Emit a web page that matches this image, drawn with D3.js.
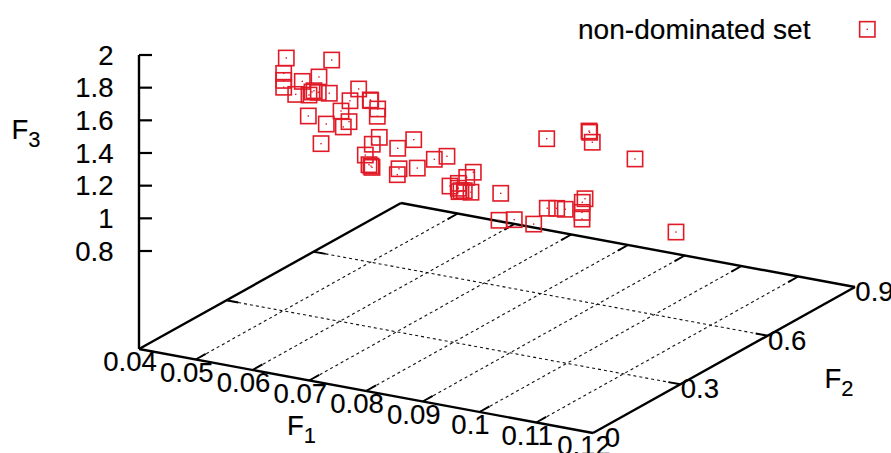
<!DOCTYPE html>
<html><head><meta charset="utf-8">
<script src="https://cdn.jsdelivr.net/npm/d3@7"></script>
<style>html,body{margin:0;padding:0;background:#fff}svg{display:block}text{font-family:"Liberation Sans",Arial,sans-serif;fill:#000;stroke:#000;stroke-width:.15px}</style>
</head><body><div id="c"></div>
<script>
const f1Ticks=[0.04,0.05,0.06,0.07,0.08,0.09,0.1,0.11,0.12];
const f2Ticks=[0,0.3,0.6,0.9];
const f3Ticks=[0.8,1,1.2,1.4,1.6,1.8,2];
const legendLabel="non-dominated set";
const F1=[.05826,.06626,.0578,.0578,.0578,.06108,.06402,.05992,.06226,.06314,.0639,.06584,.06279,.06214,.06531,.06438,
.06332,.06179,.06537,.06544,.06667,.0666,.06021,.06162,.06061,.06695,.06572,.06449,.06514,.06567,.06549,.0702,.07302,.07043,.07013,.07365,.07665,.07888,
.08352,.08236,.07941,.08088,.08088,.08135,.08193,.08311,.081,.08835,.08805,.09074,.09416,
.08876,.08886,.09052,.09203,.09551,.09503,.09498,.09498,.09633,.09621,.09679,.10432,.11154];
const F2=[.15,.15,.15,.15,.15,.15,.15,.15,.15,.15,.15,.15,.15,.15,.15,.15,
.3,.3,.3,.3,.3,.3,.3,.3,.3,.3,.3,.3,.3,.3,.3,.3,.3,.3,.3,.3,.3,.3,
.3,.3,.3,.3,.3,.3,.3,.3,.3,.3,.3,.3,.3,
.45,.45,.45,.45,.45,.45,.45,.45,.45,.45,.45,.45,.45];
const F3=[1.95,1.989,1.853,1.81,1.768,1.825,1.871,1.738,1.749,1.781,1.776,1.783,1.771,1.62,1.591,1.465,
1.644,1.562,1.59,1.586,1.543,1.498,1.489,1.433,1.394,1.371,1.321,1.247,1.192,1.179,1.186,1.325,1.396,1.201,1.163,1.226,1.299,1.332,
1.264,1.225,1.153,1.179,1.149,1.137,1.141,1.139,1.129,1.166,.999,1.02,1.015,
1.354,.929,.939,.943,1.03,1.005,.943,.902,1.442,1.449,1.384,1.33,.929];

const W=891,H=453,X0=139,RED="#e01a26",FS=27,SX=1.02;
const svg=d3.select("#c").append("svg").attr("width",W).attr("height",H);
const xF1=d3.scaleLinear().domain([.04,.12]).range([X0,X0+454]);
const yF1=d3.scaleLinear().domain([.04,.12]).range([0,84]);
const xF2=d3.scaleLinear().domain([0,.9]).range([0,262]);
const yF2=d3.scaleLinear().domain([0,.9]).range([0,-146]);
const zS=d3.scaleLinear().domain([.2,2]).range([349,55]);
const px=(a,b)=>xF1(a)+xF2(b), py=(a,b,c)=>yF1(a)+yF2(b)+zS(c);
const Z0=.2,A=f1Ticks[0],B=f1Ticks[f1Ticks.length-1],M=f2Ticks[f2Ticks.length-1];

function seg(g,x1,y1,x2,y2,w,dash){
  const l=g.append("line").attr("x1",x1).attr("y1",y1).attr("x2",x2).attr("y2",y2)
    .attr("stroke","#000").attr("stroke-width",w);
  if(dash) l.attr("stroke-dasharray",dash).attr("stroke","#111");
}
// grid
const grid=svg.append("g");
f1Ticks.slice(1,-1).forEach(t=>seg(grid,px(t,0),py(t,0,Z0),px(t,M),py(t,M,Z0),1.1,"3,3"));
f2Ticks.slice(1,-1).forEach(t=>seg(grid,px(A,t),py(A,t,Z0),px(B,t),py(B,t,Z0),1.1,"3,3"));
// base frame
const frame=svg.append("g");
const corners=[[A,0],[B,0],[B,M],[A,M],[A,0]];
d3.pairs(corners).forEach(([p,q])=>seg(frame,px(p[0],p[1]),py(p[0],p[1],Z0),px(q[0],q[1]),py(q[0],q[1],Z0),2.4));
// base ticks
const dv=.9*10/262, du=.08*12/454;
f1Ticks.slice(1,-1).forEach(t=>{
  seg(frame,px(t,0),py(t,0,Z0),px(t,dv),py(t,dv,Z0),2);
  seg(frame,px(t,M),py(t,M,Z0),px(t,M-dv),py(t,M-dv,Z0),2);
});
f2Ticks.slice(1,-1).forEach(t=>{
  seg(frame,px(A,t),py(A,t,Z0),px(A+du,t),py(A+du,t,Z0),2);
  seg(frame,px(B,t),py(B,t,Z0),px(B-du,t),py(B-du,t,Z0),2);
});
// F3 axis
const axZ=svg.append("g").attr("transform",`translate(${X0},0)`)
  .call(d3.axisLeft(zS).tickValues(f3Ticks).tickFormat(d=>String(d)).tickSizeInner(-13).tickSizeOuter(0).tickPadding(23.6).offset(0));
axZ.select(".domain").attr("stroke","#000").attr("stroke-width",2.4);
axZ.selectAll(".tick line").attr("stroke","#000").attr("stroke-width",2.2);
axZ.selectAll(".tick text").attr("font-size",FS).attr("font-family",'"Liberation Sans",Arial,sans-serif')
  .attr("dy","9.5px").attr("x",-25.5/SX).attr("transform",`scale(${SX},1)`);

function label(x,y,txt,anchor,sub,sx){
  const t=svg.append("text").attr("transform",`translate(${x},${y}) scale(${sx||SX},1)`)
    .attr("font-size",FS).attr("text-anchor",anchor).text(txt);
  if(sub) t.append("tspan").attr("dy",8).attr("font-size",21.5).text(sub);
}
f1Ticks.forEach(t=>label(px(t,0)-9,py(t,0,Z0)+22.3,String(t),"middle"));
f2Ticks.forEach(t=>label(px(B,t)+19.5,py(B,t,Z0)+14,String(t),"middle"));
label(11.5,138.5,"F","start","3");
label(287,435,"F","start","1");
label(824.5,388,"F","start","2");
label(810.5,39.3,legendLabel,"end",null,1.04);

// points
const pts=d3.range(F1.length).map(i=>({x:px(F1[i],F2[i]),y:py(F1[i],F2[i],F3[i])}));
const S=15.3;
function marker(g,x,y){
  g.append("rect").attr("x",x-S/2).attr("y",y-S/2).attr("width",S).attr("height",S)
    .attr("fill","none").attr("stroke",RED).attr("stroke-width",1.6);
  g.append("rect").attr("x",x-.7).attr("y",y-.7).attr("width",1.4).attr("height",1.4).attr("fill",RED);
}
const pg=svg.append("g");
pts.forEach(p=>marker(pg,p.x,p.y));
marker(pg,867.3,29.3);
</script></body></html>
